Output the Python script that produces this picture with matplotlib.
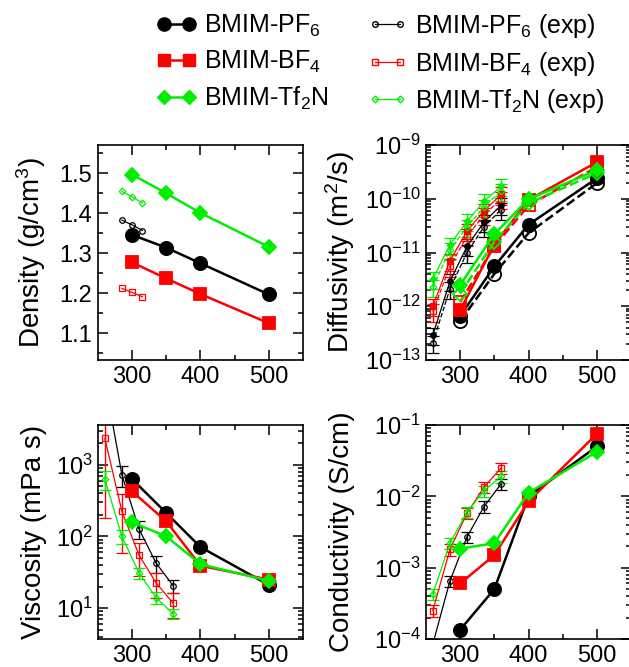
import numpy as np
import matplotlib
matplotlib.use('Agg')
import matplotlib.pyplot as plt
from matplotlib.lines import Line2D
from matplotlib.ticker import MultipleLocator, LogLocator, NullFormatter, FixedLocator

plt.rcParams['font.family'] = ['Liberation Sans', 'DejaVu Sans']
plt.rcParams['mathtext.fontset'] = 'custom'
plt.rcParams['mathtext.rm'] = 'Liberation Sans'
plt.rcParams['mathtext.it'] = 'Liberation Sans:italic'
plt.rcParams['mathtext.bf'] = 'Liberation Sans:bold'

# ---------------- data ----------------
T_sim = [300, 350, 400, 500]
T_exp_dens = [285, 300, 315]
T_exp = [260, 285, 310, 335, 360]

# density (g/cm3)
dens_pf6 = [1.346, 1.314, 1.275, 1.197]
dens_bf4 = [1.277, 1.237, 1.198, 1.125]
dens_tf2n = [1.497, 1.450, 1.401, 1.316]
dens_pf6_exp = [1.383, 1.371, 1.357]
dens_bf4_exp = [1.212, 1.202, 1.191]
dens_tf2n_exp = [1.455, 1.441, 1.426]

# diffusivity (m2/s): cation (solid) and anion (dashed)
diff_pf6_cat = [6.6e-13, 5.5e-12, 3.3e-11, 2.4e-10]
diff_pf6_an = [5.3e-13, 4.0e-12, 2.3e-11, 1.95e-10]
diff_bf4_cat = [8.5e-13, 1.4e-11, 9.5e-11, 4.8e-10]
diff_bf4_an = [1.2e-12, 1.3e-11, 7.5e-11, 3.9e-10]
diff_tf2n_cat = [2.5e-12, 2.2e-11, 9.8e-11, 3.4e-10]
diff_tf2n_an = [1.7e-12, 1.6e-11, 8.2e-11, 3.0e-10]
diff_pf6_cat_exp = [2.9e-13, 2.9e-12, 1.3e-11, 3.7e-11, 7.6e-11]
diff_pf6_an_exp = [2.1e-13, 2.1e-12, 1.0e-11, 3.0e-11, 6.3e-11]
diff_bf4_cat_exp = [1.0e-12, 7.0e-12, 2.5e-11, 6.0e-11, 1.2e-10]
diff_bf4_an_exp = [8.0e-13, 5.5e-12, 2.0e-11, 5.0e-11, 1.0e-10]
diff_tf2n_cat_exp = [3.2e-12, 1.4e-11, 3.8e-11, 9.0e-11, 1.7e-10]
diff_tf2n_an_exp = [2.3e-12, 1.1e-11, 3.0e-11, 7.0e-11, 1.4e-10]
diff_rel_err = 0.35

# viscosity (mPa s)
visc_pf6 = [630, 212, 71, 21]
visc_bf4 = [425, 162, 39, 25]
visc_tf2n = [158, 100, 41, 24]
visc_pf6_exp = [15000, 726, 127, 42.5, 20.5]
visc_bf4_exp = [2350, 224, 55, 22.4, 11.7]
visc_tf2n_exp = [630, 100, 31, 14, 8.3]
visc_pf6_err = [3000, 240, 36, 11.5, 4.3]
visc_bf4_err = [2170, 165, 27, 8.5, 4.5]
visc_tf2n_err = [180, 22, 5.6, 2.7, 1.3]

# conductivity (S/cm)
cond_pf6 = [1.35e-4, 5.0e-4, 1.0e-2, 5.0e-2]
cond_bf4 = [6.0e-4, 1.5e-3, 8.5e-3, 7.5e-2]
cond_tf2n = [1.85e-3, 2.2e-3, 1.12e-2, 4.2e-2]
cond_pf6_exp = [8.5e-5, 6.5e-4, 2.7e-3, 7.2e-3, 1.5e-2]
cond_bf4_exp = [2.5e-4, 1.8e-3, 5.8e-3, 1.35e-2, 2.5e-2]
cond_tf2n_exp = [4.3e-4, 2.2e-3, 6.0e-3, 1.2e-2, 1.9e-2]
cond_rel_err = 0.18

labels_sim = ['BMIM-PF$_6$', 'BMIM-BF$_4$', 'BMIM-Tf$_2$N']
labels_exp = ['BMIM-PF$_6$ (exp)', 'BMIM-BF$_4$ (exp)', 'BMIM-Tf$_2$N (exp)']

# ---------------- styles ----------------
BLACK = 'black'
RED = '#ff0000'
GREEN = '#00ee00'
colors = [BLACK, RED, GREEN]
mk = ['o', 's', 'D']
ms_sim = [9.5, 8.5, 7.0]
ms_exp = [4.0, 3.8, 3.4]
LW_SIM = 1.8
LW_EXP = 0.9
TICK_FS = 17
LABEL_FS = 20

fig = plt.figure(figsize=(6.29, 6.67), dpi=100)
W, H = 629, 667

def axes_px(x0, y0, x1, y1):
    return fig.add_axes([x0 / W, 1 - y1 / H, (x1 - x0) / W, (y1 - y0) / H])

ax_d = axes_px(98, 145, 303, 360)
ax_D = axes_px(426, 145, 631, 360)
ax_v = axes_px(98, 425, 303, 639)
ax_c = axes_px(426, 425, 631, 639)

def style(ax):
    ax.set_xlim(250, 550)
    ax.xaxis.set_major_locator(FixedLocator([300, 400, 500]))
    ax.xaxis.set_minor_locator(FixedLocator([350, 450]))
    ax.tick_params(which='both', direction='in', top=True, right=True,
                   labelsize=TICK_FS, width=1.1)
    ax.tick_params(which='major', length=7, pad=4)
    ax.tick_params(which='minor', length=3.5)
    for s in ax.spines.values():
        s.set_linewidth(1.2)

def sim(ax, T, y, i, ls='-', filled=True):
    ax.plot(T, y, ls=ls, color=colors[i], lw=LW_SIM, marker=mk[i], ms=ms_sim[i],
            mfc=colors[i] if filled else 'none', mec=colors[i], mew=1.3, zorder=3)

def exp(ax, T, y, i, err=None, ls='-', filled=False):
    if err is None:
        ax.plot(T, y, ls=ls, color=colors[i], lw=LW_EXP, marker=mk[i], ms=ms_exp[i],
                mfc=colors[i] if filled else 'none', mec=colors[i], mew=0.9, zorder=2)
    else:
        ax.errorbar(T, y, yerr=err, ls=ls, color=colors[i], lw=LW_EXP, marker=mk[i],
                    ms=ms_exp[i], mfc=colors[i] if filled else 'none', mec=colors[i],
                    mew=0.9, capsize=4.5, elinewidth=1.0, capthick=1.0, zorder=2)

# ---- density ----
style(ax_d)
for i, (s, e) in enumerate([(dens_pf6, dens_pf6_exp), (dens_bf4, dens_bf4_exp),
                            (dens_tf2n, dens_tf2n_exp)]):
    sim(ax_d, T_sim, s, i)
    exp(ax_d, T_exp_dens, e, i)
ax_d.set_ylim(1.033, 1.571)
ax_d.yaxis.set_major_locator(FixedLocator([1.1, 1.2, 1.3, 1.4, 1.5]))
ax_d.yaxis.set_minor_locator(FixedLocator([1.05, 1.15, 1.25, 1.35, 1.45, 1.55]))
ax_d.yaxis.set_major_formatter(matplotlib.ticker.FormatStrFormatter('%.1f'))
ax_d.set_ylabel('Density (g/cm$^3$)', fontsize=LABEL_FS)
ax_d.yaxis.set_label_coords(-0.244, 0.5)

# ---- diffusivity ----
style(ax_D)
ax_D.set_yscale('log')
sim_pairs = [(diff_pf6_cat, diff_pf6_an), (diff_bf4_cat, diff_bf4_an),
             (diff_tf2n_cat, diff_tf2n_an)]
exp_pairs = [(diff_pf6_cat_exp, diff_pf6_an_exp), (diff_bf4_cat_exp, diff_bf4_an_exp),
             (diff_tf2n_cat_exp, diff_tf2n_an_exp)]
for i in range(3):
    c, a = exp_pairs[i]
    exp(ax_D, T_exp, c, i, err=np.array(c) * diff_rel_err, ls='-', filled=True)
    exp(ax_D, T_exp, a, i, err=np.array(a) * diff_rel_err, ls='--', filled=False)
for i in range(3):
    c, a = sim_pairs[i]
    sim(ax_D, T_sim, a, i, ls='--', filled=False)
    sim(ax_D, T_sim, c, i, ls='-', filled=True)
ax_D.set_ylim(1e-13, 1e-9)
ax_D.yaxis.set_major_locator(LogLocator(base=10, numticks=10))
ax_D.yaxis.set_minor_locator(LogLocator(base=10, subs=np.arange(2, 10), numticks=20))
ax_D.yaxis.set_minor_formatter(NullFormatter())
ax_D.set_ylabel('Diffusivity (m$^2$/s)', fontsize=LABEL_FS)
ax_D.yaxis.set_label_coords(-0.337, 0.5)

# ---- viscosity ----
style(ax_v)
ax_v.set_yscale('log')
for i, (s, e, er) in enumerate([(visc_pf6, visc_pf6_exp, visc_pf6_err),
                                (visc_bf4, visc_bf4_exp, visc_bf4_err),
                                (visc_tf2n, visc_tf2n_exp, visc_tf2n_err)]):
    exp(ax_v, T_exp, e, i, err=er)
for i, s in enumerate([visc_pf6, visc_bf4, visc_tf2n]):
    sim(ax_v, T_sim, s, i)
ax_v.set_ylim(3.7, 3600)
ax_v.yaxis.set_major_locator(LogLocator(base=10, numticks=10))
ax_v.yaxis.set_minor_locator(LogLocator(base=10, subs=np.arange(2, 10), numticks=20))
ax_v.yaxis.set_minor_formatter(NullFormatter())
ax_v.set_ylabel('Viscosity (mPa s)', fontsize=LABEL_FS)
ax_v.yaxis.set_label_coords(-0.249, 0.5)

# ---- conductivity ----
style(ax_c)
ax_c.set_yscale('log')
for i, e in enumerate([cond_pf6_exp, cond_bf4_exp, cond_tf2n_exp]):
    exp(ax_c, T_exp, e, i, err=np.array(e) * cond_rel_err)
for i, s in enumerate([cond_pf6, cond_bf4, cond_tf2n]):
    sim(ax_c, T_sim, s, i)
ax_c.set_ylim(1e-4, 1e-1)
ax_c.yaxis.set_major_locator(LogLocator(base=10, numticks=10))
ax_c.yaxis.set_minor_locator(LogLocator(base=10, subs=np.arange(2, 10), numticks=20))
ax_c.yaxis.set_minor_formatter(NullFormatter())
ax_c.set_ylabel('Conductivity (S/cm)', fontsize=LABEL_FS)
ax_c.yaxis.set_label_coords(-0.346, 0.5)

# ---- legend ----
handles = []
for i in range(3):
    handles.append(Line2D([], [], color=colors[i], lw=LW_SIM, marker=mk[i],
                          ms=ms_sim[i], mfc=colors[i], mec=colors[i]))
for i in range(3):
    handles.append(Line2D([], [], color=colors[i], lw=LW_EXP, marker=mk[i],
                          ms=ms_exp[i], mfc='none', mec=colors[i]))
fig.legend(handles, labels_sim + labels_exp, ncol=2, loc='upper left',
           bbox_to_anchor=(156 / W, 1 - 12 / H), frameon=False, fontsize=18,
           numpoints=2, handlelength=1.6, handletextpad=0.3, columnspacing=1.6,
           labelspacing=0.38, borderpad=0, borderaxespad=0)

fig.savefig('out.png', dpi=100)
